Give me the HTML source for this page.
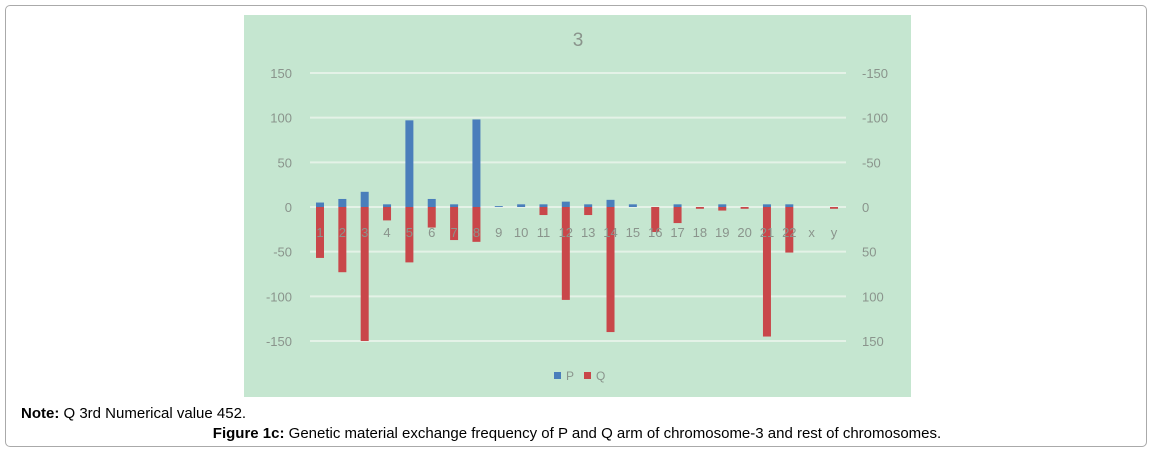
<!DOCTYPE html>
<html><head><meta charset="utf-8"><style>
body{margin:0;background:#fff;width:1154px;height:454px;overflow:hidden;font-family:"Liberation Sans",sans-serif;position:relative}
#frame{position:absolute;left:5px;top:5px;width:1142px;height:442px;border:1px solid #aaa;border-radius:5px;box-sizing:border-box}
#note{position:absolute;left:21px;top:405px;font-size:15px;color:#000}
#cap{position:absolute;left:0;width:1154px;text-align:center;top:425px;font-size:15px;color:#000}
svg{position:absolute;left:0;top:0}
</style></head><body>
<div id="frame"></div>
<svg id="chart" width="1154" height="454">
<rect x="244" y="15" width="667" height="382" fill="#c5e6d0"/>
<text x="578" y="46" font-size="19" fill="#8a948c" text-anchor="middle" font-family="Liberation Sans, sans-serif">3</text>
<g id="grid"></g><g id="bars"></g><g id="labels"></g>
<g>
<rect x="554" y="372" width="7" height="7" fill="#4a7ebb"/>
<text x="566" y="380" font-size="12" fill="#8a948c">P</text>
<rect x="584" y="372" width="7" height="7" fill="#c9474a"/>
<text x="596" y="380" font-size="12" fill="#8a948c">Q</text>
</g>
</svg>
<div id="note"><b>Note:</b> Q 3rd Numerical value 452.</div>
<div id="cap"><b>Figure 1c:</b> Genetic material exchange frequency of P and Q arm of chromosome-3 and rest of chromosomes.</div>
<script>
const cats=["1","2","3","4","5","6","7","8","9","10","11","12","13","14","15","16","17","18","19","20","21","22","x","y"];
const pVals=[5,9,17,3,97,9,3,98,1,3,3,6,3,8,3,0,3,0,3,0,3,3,0,0];
const qVals=[-57,-73,-150,-15,-62,-23,-37,-39,0,0,-9,-104,-9,-140,0,-28,-18,-2,-4,-2,-145,-51,0,-2];
const ticks=[150,100,50,0,-50,-100,-150];
const NS="http://www.w3.org/2000/svg";
const y0=207,ppu=134/150,x0=320,step=(834-320)/23;
function yOf(v){return y0-v*ppu;}
function xOf(i){return x0+i*step;}
function mk(t,a,p){const e=document.createElementNS(NS,t);for(const k in a)e.setAttribute(k,a[k]);p.appendChild(e);return e;}
const grid=document.getElementById('grid'),bars=document.getElementById('bars'),labels=document.getElementById('labels');
ticks.forEach(t=>{
 const y=yOf(t);
 const l=mk('line',{x1:310,x2:846,y1:y,y2:y,stroke:'#e4f2e7','stroke-width':2},grid);
 
 
 const a=mk('text',{x:292,y:y+5,'font-size':13,fill:'#8a948c','text-anchor':'end'},labels);
 a.textContent=t;
 
 
 const b=mk('text',{x:862,y:y+5,'font-size':13,fill:'#8a948c'},labels);
 b.textContent=-t;
 
 
});
cats.forEach((c,i)=>{
 const x=xOf(i),w=8;
 if(pVals[i]>0){const r=mk('rect',{x:x-w/2,y:yOf(pVals[i]),width:w,height:pVals[i]*ppu,fill:'#4a7ebb'},bars);
 
 }
 if(qVals[i]<0){const r=mk('rect',{x:x-w/2,y:y0,width:w,height:-qVals[i]*ppu,fill:'#c9474a'},bars);
 
 }
 const t=mk('text',{x:x,y:237,'font-size':13,fill:'#8a948c','text-anchor':'middle'},labels);
 t.textContent=c;
 
 
});
</script>
</body></html>
